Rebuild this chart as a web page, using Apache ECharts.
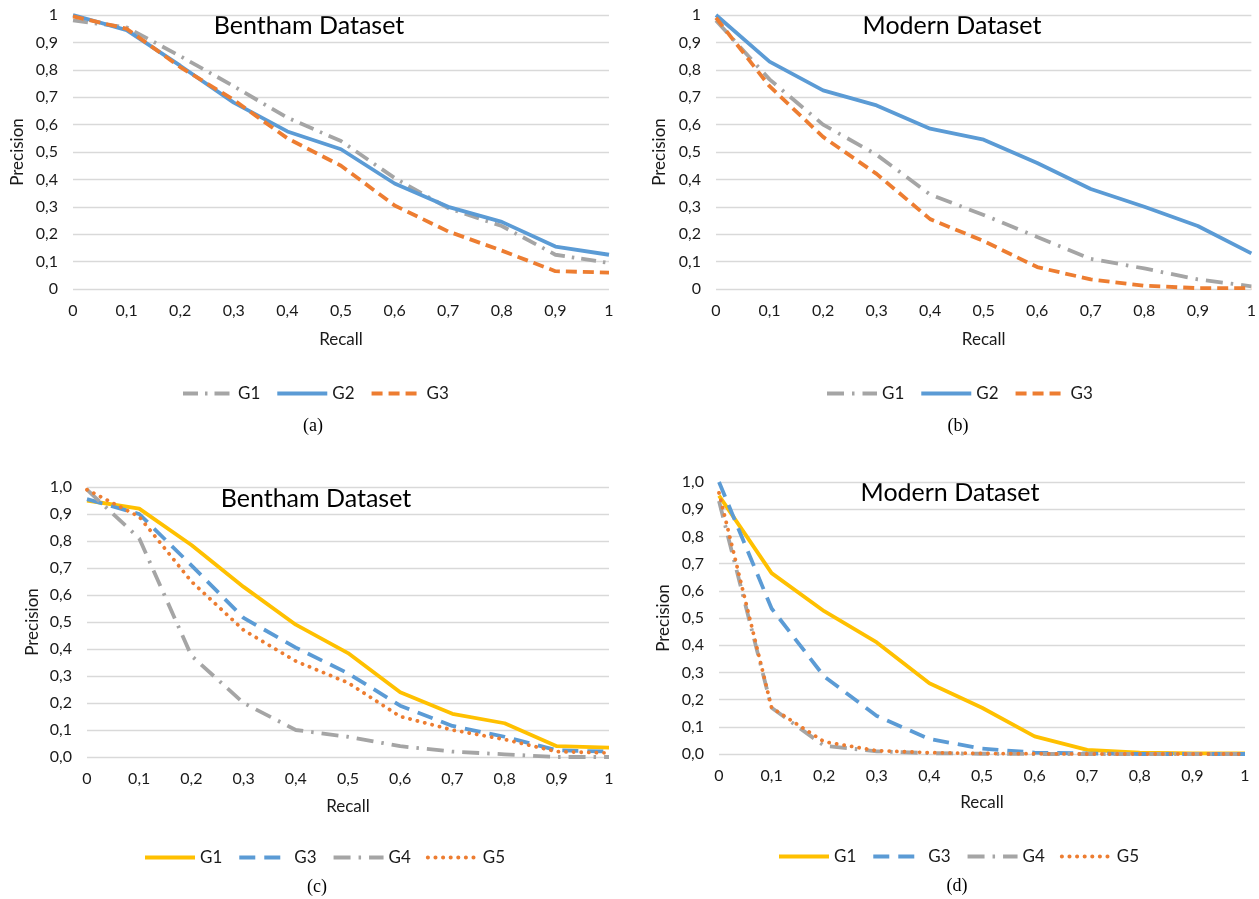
<!DOCTYPE html>
<html>
<head>
<meta charset="utf-8">
<script src="https://cdn.jsdelivr.net/npm/echarts@6/dist/echarts.min.js"></script>
<style>html,body{margin:0;padding:0;background:#fff;}#c{width:1259px;height:899px;}</style>
</head>
<body>
<div id="c"></div>
<script>
// ---- data ----
const recall = [0, 0.1, 0.2, 0.3, 0.4, 0.5, 0.6, 0.7, 0.8, 0.9, 1];
const yTicks = [0, 0.1, 0.2, 0.3, 0.4, 0.5, 0.6, 0.7, 0.8, 0.9, 1];

// (a) Bentham
const aG1 = [0.98, 0.955, 0.85, 0.74, 0.625, 0.54, 0.405, 0.295, 0.23, 0.125, 0.095];
const aG2 = [1.0, 0.945, 0.815, 0.68, 0.575, 0.51, 0.385, 0.30, 0.245, 0.155, 0.125];
const aG3 = [0.995, 0.95, 0.81, 0.69, 0.55, 0.45, 0.305, 0.21, 0.14, 0.065, 0.06];
// (b) Modern
const bG1 = [0.98, 0.765, 0.60, 0.49, 0.345, 0.27, 0.19, 0.11, 0.075, 0.035, 0.01];
const bG2 = [1.0, 0.83, 0.725, 0.67, 0.585, 0.545, 0.46, 0.365, 0.30, 0.23, 0.13];
const bG3 = [0.99, 0.74, 0.555, 0.42, 0.255, 0.175, 0.08, 0.035, 0.012, 0.003, 0.003];
// (c) Bentham
const cG1 = [0.95, 0.92, 0.785, 0.63, 0.49, 0.385, 0.24, 0.16, 0.125, 0.04, 0.035];
const cG3 = [0.955, 0.90, 0.71, 0.515, 0.405, 0.31, 0.19, 0.115, 0.075, 0.025, 0.02];
const cG4 = [0.99, 0.81, 0.375, 0.20, 0.10, 0.075, 0.04, 0.02, 0.01, 0.0, 0.0];
const cG5 = [0.99, 0.89, 0.65, 0.47, 0.355, 0.275, 0.15, 0.10, 0.065, 0.02, 0.015];
// (d) Modern
const dG1 = [0.95, 0.665, 0.525, 0.41, 0.26, 0.17, 0.065, 0.015, 0.005, 0.002, 0.002];
const dG3 = [1.0, 0.535, 0.285, 0.14, 0.055, 0.02, 0.005, 0.002, 0, 0, 0];
const dG4 = [0.93, 0.17, 0.03, 0.01, 0.003, 0.001, 0, 0, 0, 0, 0];
const dG5 = [0.96, 0.17, 0.045, 0.012, 0.005, 0.002, 0.001, 0, 0, 0, 0];

const panelTitles = ['Bentham Dataset', 'Modern Dataset', 'Bentham Dataset', 'Modern Dataset'];
const captions = ['(a)', '(b)', '(c)', '(d)'];

// ---- styles ----
const FONT = 'Lato, "Open Sans", sans-serif';
const TXT = '#1a1a1a';
const GRAY = '#A5A5A5', BLUE = '#5B9BD5', ORANGE = '#ED7D31', YELLOW = '#FFC000';
const LW = 3.8;
const styles = {
  dashDot: {color: GRAY, type: [15, 7, 2.5, 7], width: LW},
  longDashDot: {color: GRAY, type: [17, 8, 2.5, 8], width: LW},
  solidBlue: {color: BLUE, type: 'solid', width: LW},
  dashOrange: {color: ORANGE, type: [11, 6], width: LW},
  solidYellow: {color: YELLOW, type: 'solid', width: LW},
  longDashBlue: {color: BLUE, type: [16, 9], width: LW},
  dotOrange: {color: ORANGE, type: [0.1, 7.5], width: LW, cap: 'round'}
};

const grids = [
  {left: 73, right: 650, top: 15, bottom: 610},
  {left: 716, right: 5, top: 15, bottom: 610},
  {left: 87, right: 650, top: 487, bottom: 142},
  {left: 719, right: 14, top: 482, bottom: 145}
];

function fmt(decimalsAlways) {
  return function (v) {
    const r = Math.round(v * 10) / 10;
    if (!decimalsAlways && (r === 0 || r === 1)) return String(r);
    return r.toFixed(1).replace('.', ',');
  };
}

const xAxes = [], yAxes = [];
const xNameGap = [42, 42, 41, 40];
const yNameGap = [47, 48, 46, 47];
grids.forEach((g, i) => {
  xAxes.push({
    gridIndex: i, type: 'value', min: 0, max: 1, interval: 0.1,
    name: 'Recall', nameLocation: 'middle', nameGap: xNameGap[i],
    nameTextStyle: {fontFamily: FONT, fontSize: 17, color: TXT},
    axisLine: {show: false}, axisTick: {show: false}, splitLine: {show: false},
    axisLabel: {formatter: fmt(false), fontFamily: FONT, fontSize: 16, color: TXT, margin: 14}
  });
  yAxes.push({
    gridIndex: i, type: 'value', min: 0, max: 1, interval: 0.1,
    name: 'Precision', nameLocation: 'middle', nameRotate: 90, nameGap: yNameGap[i],
    nameTextStyle: {fontFamily: FONT, fontSize: 17, color: TXT},
    axisLine: {show: false}, axisTick: {show: false},
    splitLine: {show: true, lineStyle: {color: '#D9D9D9', width: 1.3}},
    axisLabel: {formatter: fmt(i >= 2), fontFamily: FONT, fontSize: 16, color: TXT, margin: 15}
  });
});

function pts(arr) { return recall.map((x, k) => [x, arr[k]]); }
function mk(panel, name, arr, ls, idx) {
  return {
    name: panel + ':' + name, type: 'line', xAxisIndex: idx, yAxisIndex: idx,
    data: pts(arr), symbol: 'none', lineStyle: ls, silent: true, animation: false
  };
}

const series = [
  mk('a', 'G1', aG1, styles.dashDot, 0),
  mk('a', 'G2', aG2, styles.solidBlue, 0),
  mk('a', 'G3', aG3, styles.dashOrange, 0),
  mk('b', 'G1', bG1, styles.longDashDot, 1),
  mk('b', 'G2', bG2, styles.solidBlue, 1),
  mk('b', 'G3', bG3, styles.dashOrange, 1),
  mk('c', 'G1', cG1, styles.solidYellow, 2),
  mk('c', 'G3', cG3, styles.longDashBlue, 2),
  mk('c', 'G4', cG4, styles.longDashDot, 2),
  mk('c', 'G5', cG5, styles.dotOrange, 2),
  mk('d', 'G1', dG1, styles.solidYellow, 3),
  mk('d', 'G3', dG3, styles.longDashBlue, 3),
  mk('d', 'G4', dG4, styles.longDashDot, 3),
  mk('d', 'G5', dG5, styles.dotOrange, 3)
];

function legend(panel, names, cx, cy) {
  return {
    data: names.map(n => panel + ':' + n),
    formatter: n => n.split(':')[1],
    left: cx, top: cy - 8, width: 'auto', padding: 0,
    itemWidth: 50, itemHeight: 16, itemGap: 15,
    textStyle: {fontFamily: FONT, fontSize: 17, color: TXT, padding: [0, 0, 0, 0]},
    lineStyle: {width: 4},
    itemStyle: {color: 'transparent', borderColor: 'transparent', borderWidth: 0},
    selectedMode: false
  };
}

const legends = [
  legend('a', ['G1', 'G2', 'G3'], 181, 393),
  legend('b', ['G1', 'G2', 'G3'], 825, 393),
  legend('c', ['G1', 'G3', 'G4', 'G5'], 143, 857),
  legend('d', ['G1', 'G3', 'G4', 'G5'], 777, 856)
];

const titlePos = [[309, 26], [952, 26], [316, 499], [950, 493]];
const capPos = [[313, 426], [958, 426], [317, 887], [957, 886]];
const graphics = [];
titlePos.forEach((p, i) => graphics.push({
  type: 'text', x: p[0], y: p[1], silent: true,
  style: {text: panelTitles[i], fontFamily: FONT, fontSize: 25, fill: '#000', align: 'center', verticalAlign: 'middle'}
}));
capPos.forEach((p, i) => graphics.push({
  type: 'text', x: p[0], y: p[1], silent: true,
  style: {text: captions[i], fontFamily: '"Liberation Serif", serif', fontSize: 18, fill: '#000', align: 'center', verticalAlign: 'middle'}
}));

const chart = echarts.init(document.getElementById('c'), null, {renderer: 'canvas'});
chart.setOption({
  backgroundColor: '#fff',
  animation: false,
  grid: grids,
  xAxis: xAxes,
  yAxis: yAxes,
  legend: legends,
  series: series,
  graphic: graphics
});
</script>
</body>
</html>
